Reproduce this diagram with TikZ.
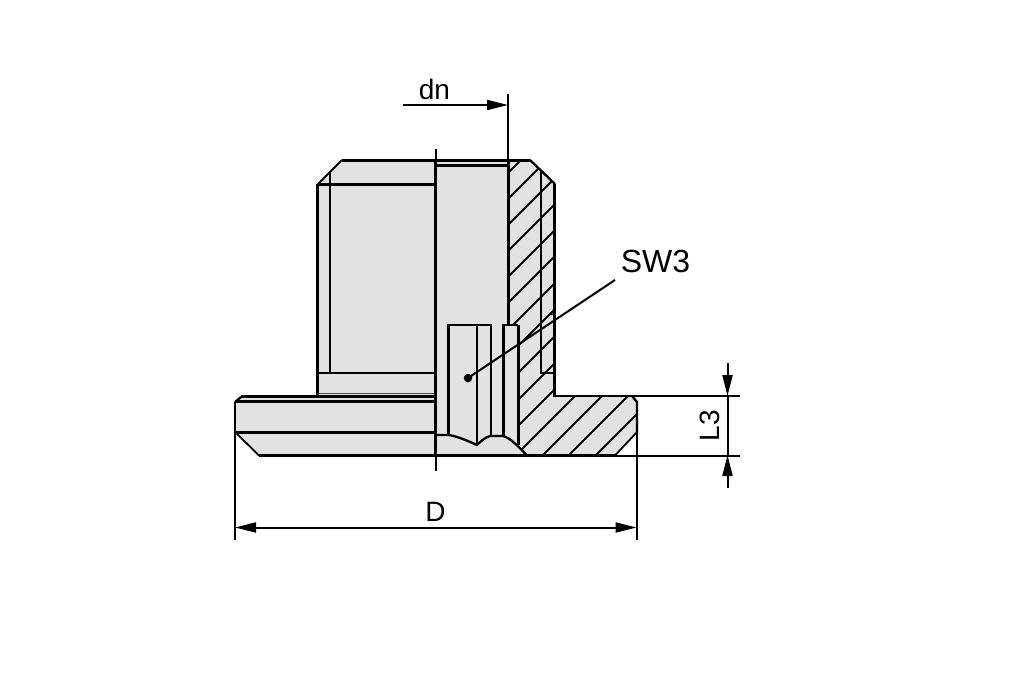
\documentclass[tikz,border=0pt]{standalone}
\usepackage{fontspec}
\setmainfont{Liberation Sans}
\usetikzlibrary{arrows.meta}
\definecolor{bodygray}{HTML}{E2E2E2}
\tikzset{
  x=1pt,y=-1pt,
  heavy/.style={line width=3pt,black},
  medium/.style={line width=2.3pt,black},
  fine/.style={line width=1.8pt,black},
  hatchline/.style={line width=1.9pt,black},
  dimline/.style={line width=2pt,black},
  dimtip/.style={-{Triangle[length=21pt,width=10pt]}},
  dimboth/.style={{Triangle[length=21pt,width=10pt]}-{Triangle[length=21pt,width=10pt]}},
  label/.style={inner sep=0pt,font=\fontsize{28}{28}\selectfont}
}
\begin{document}
\begin{tikzpicture}
\useasboundingbox (0,0) rectangle (1010,673);
\fill[white] (0,0) rectangle (1010,673);
% body silhouette
\fill[bodygray] (342,160) -- (530,160) -- (555,184) -- (555,396) -- (632,396) -- (637,402) -- (637,432) -- (615,455.5) -- (259,455.5) -- (235,432) -- (235,402) -- (241,397) -- (317,397) -- (317,184) -- cycle;
% hatching of the cut wall
\begin{scope}
\clip (508,160) -- (530,160) -- (555,184) -- (555,396) -- (632,396) -- (637,402) -- (637,432) -- (615,455.5) -- (527,455.5) -- (518,445) -- (518,325) -- (508,325) -- cycle;
\foreach \c in {681,707,733,759,785,811,838,864,891,918,944,971,998,1024,1051}
  \draw[hatchline] (\c-500,500) -- (\c-100,100);
\end{scope}
% outer contour
\draw[heavy] (342,160) -- (530,160);
\draw[fine] (342,160) -- (318,184);
\draw[medium] (530,160) -- (555,184);
\draw[heavy] (554.5,184) -- (554.5,396);
\draw[medium] (553,396) -- (632,396);
\draw[medium] (632,396) -- (637,402) -- (637,432);
\draw[fine] (637,432) -- (615,455.5);
\draw[medium] (317.5,184) -- (317.5,398);
\draw[medium] (330,172) -- (330,373);
\draw[heavy] (241,396.8) -- (436,396.8);
\draw[medium] (241,397) -- (235,402);
\draw[heavy] (235,401.5) -- (436,401.5);
\draw[heavy] (235,432.5) -- (436,432.5);
\draw[fine] (235,432) -- (259,455.5);
% inner lines
\draw[heavy] (436,165.5) -- (508,165.5);
\draw[heavy] (318,184.5) -- (436,184.5);
\draw[medium] (318,373) -- (436,373);
\draw[line width=0.8pt,black!70] (318,393) -- (436,393);
\draw[heavy] (508,160) -- (508,325);
\draw[fine] (541,170) -- (541,373) -- (554,373);
% slot and thread section
\draw[medium] (448.5,435) -- (448.5,325) -- (491,325) -- (491,436);
\draw[medium] (477,325) -- (477,445);
\draw[medium] (503.5,436) -- (503.5,325) -- (518,325);
\draw[heavy] (518,325) -- (518,445);
\draw[medium] (436,435) -- (449,435) .. controls (458,436.5) and (468,441) .. (477,445) .. controls (481,441) and (485,437.5) .. (490,436) -- (503,436) .. controls (510,438) and (516,444) .. (527,455.5);
\draw[line width=1pt,black] (550.5,315) -- (555,313);
% centre line
\coordinate (ctop) at (435.5,149);
\coordinate (cbot) at (435.5,471);
\draw[dimline] (ctop) -- (cbot);
\draw[heavy] (435.5,160) -- (435.5,456);
% leader with dot
\node[circle,fill=black,inner sep=0pt,minimum size=8.5pt] (dot) at (468,378) {};
\node[label,font=\fontsize{32}{32}\selectfont] (sw) at (655.5,261) {SW3};
\coordinate (swend) at (615,280);
\draw[dimline] (dot.center) -- (swend);
% dn dimension
\coordinate (dnext) at (508,94);
\coordinate (dnstart) at (403,105);
\coordinate (dntip) at (508,105);
\draw[dimline] (dnext) -- (508,160);
\draw[dimline,dimtip] (dnstart) -- (dntip);
\node[label] (dn) at (434.5,89) {dn};
% D dimension
\coordinate (dleft) at (235,527.5);
\coordinate (dright) at (636.5,527.5);
\draw[dimline] (235,402) -- (235,540);
\draw[dimline] (636.5,432) -- (636.5,540);
\draw[dimline,dimboth] (dleft) -- (dright);
\node[label] (D) at (435.5,512) {D};
% L3 dimension
\coordinate (ltop) at (727.5,396);
\coordinate (lbot) at (727.5,455);
\coordinate (ltopfree) at (727.5,363);
\coordinate (lbotfree) at (727.5,488);
\draw[dimline] (632,396) -- (740,396);
\draw[medium] (259,455.5) -- (615,455.5);
\draw[dimline] (615,455.5) -- (740,455.5);
\draw[dimline,dimtip] (ltopfree) -- (ltop);
\draw[dimline,dimtip] (lbotfree) -- (lbot);
\draw[dimline] (ltop) -- (lbot);
\node[label,rotate=90] (L) at (710,425.5) {L3};
\end{tikzpicture}
\end{document}
